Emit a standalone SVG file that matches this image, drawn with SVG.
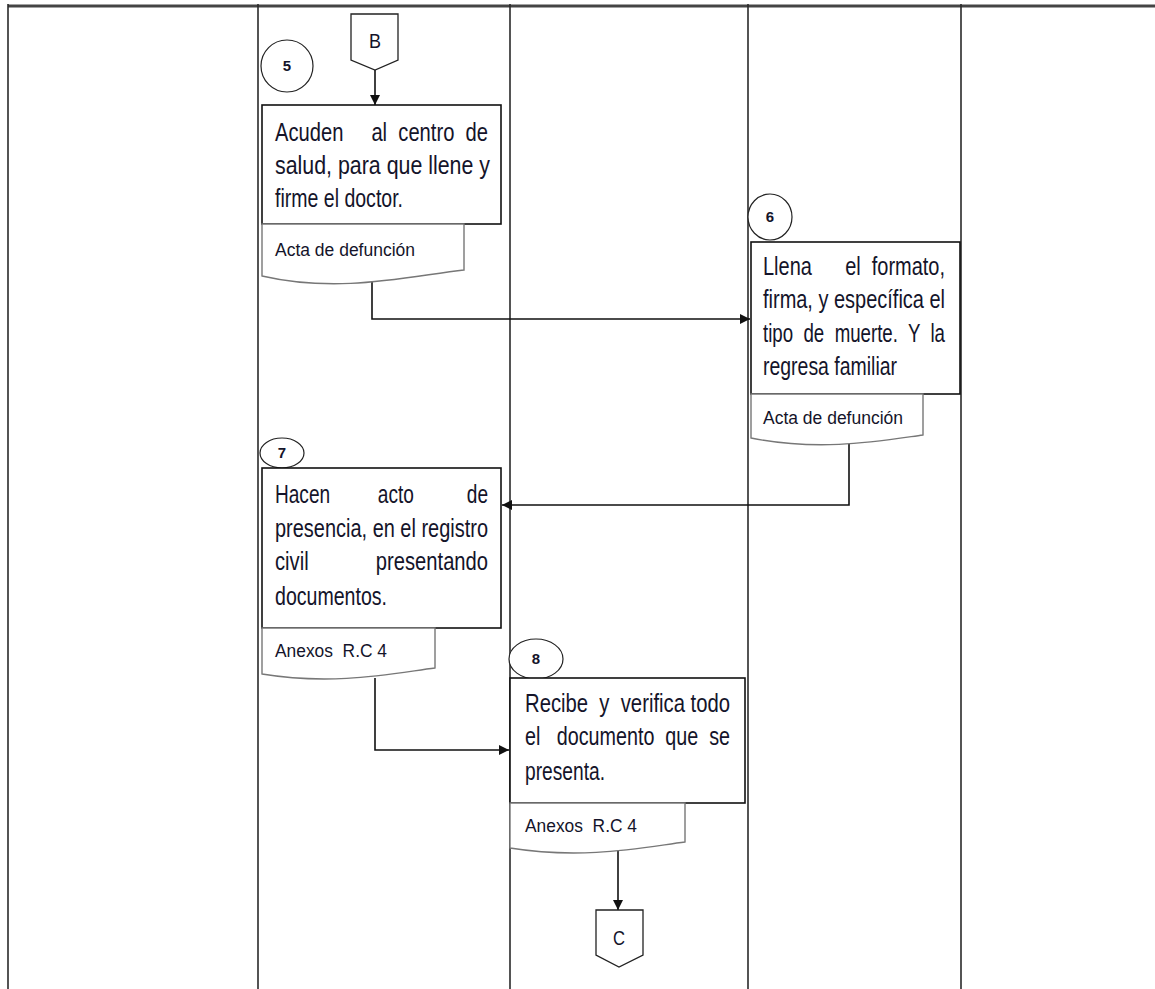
<svg xmlns="http://www.w3.org/2000/svg" width="1155" height="989" viewBox="0 0 1155 989">
<style>
.lane{stroke:#2a2a2a;stroke-width:1.6;fill:none}
.box{fill:#fff;stroke:#111;stroke-width:1.6}
.doc{fill:#fff;stroke:#777;stroke-width:1.4}
.circ{fill:#fff;stroke:#222;stroke-width:1.2}
.conn{fill:#fff;stroke:#222;stroke-width:1.3}
.t{font-family:"Liberation Sans Narrow","Liberation Sans",Arial,sans-serif;font-size:25px;fill:#14142a;white-space:pre}
.d{font-family:"Liberation Sans Narrow","Liberation Sans",Arial,sans-serif;font-size:17.5px;fill:#14142a;white-space:pre}
.n{font-family:"Liberation Sans Narrow","Liberation Sans",Arial,sans-serif;font-size:15px;font-weight:bold;fill:#14142a;text-anchor:middle}
.l{font-family:"Liberation Sans Narrow","Liberation Sans",Arial,sans-serif;font-size:21px;fill:#14142a}
.arr{fill:none;stroke:#111;stroke-width:1.6;marker-end:url(#ah)}
</style>
<defs>
<marker id="ah" viewBox="0 0 10 10" refX="10" refY="5" markerWidth="10" markerHeight="10" markerUnits="userSpaceOnUse" orient="auto">
<path d="M0,0 L10,5 L0,10 Z" fill="#111"/>
</marker>
</defs>
<rect width="1155" height="989" fill="#fff"/>
<g id="grid">
<line x1="8" y1="6" x2="1155" y2="6" stroke="#444" stroke-width="3"/>
<line class="lane" x1="8" y1="4" x2="8" y2="989"/>
<line class="lane" x1="258" y1="4" x2="258" y2="989"/>
<line class="lane" x1="510" y1="4" x2="510" y2="989"/>
<line class="lane" x1="748" y1="4" x2="748" y2="989"/>
<line class="lane" x1="961" y1="4" x2="961" y2="989"/>
</g>
<g id="connectors">
<line class="arr" x1="375" y1="70" x2="375" y2="105"/>
<path class="arr" d="M372,282 V319 H750"/>
<path class="arr" d="M849,444 V505 H502"/>
<path class="arr" d="M375,678 V750 H509"/>
<line class="arr" x1="618" y1="850" x2="618" y2="910"/>
</g>
<g id="conn-B">
<path class="conn" d="M351,14 H398 V60 L375,70 L351,60 Z"/>
<text class="l" x="369" y="48" textLength="12" lengthAdjust="spacingAndGlyphs">B</text>
</g>
<g id="step5">
<ellipse class="circ" cx="287" cy="66" rx="26" ry="26"/>
<text class="n" x="287" y="71">5</text>
</g>
<g id="box1">
<rect class="box" x="262" y="105" width="239" height="119"/>
<text class="t" x="275" y="141" textLength="213" lengthAdjust="spacingAndGlyphs">Acuden     al  centro  de</text>
<text class="t" x="275" y="174" textLength="215" lengthAdjust="spacingAndGlyphs">salud, para que llene y</text>
<text class="t" x="275" y="207" textLength="128" lengthAdjust="spacingAndGlyphs">firme el doctor.</text>
</g>
<g id="doc1">
<path class="doc" d="M262,224 H464 V270 C410,276 340,294 262,276 Z"/>
<text class="d" x="275" y="256" textLength="140" lengthAdjust="spacingAndGlyphs">Acta de defunción</text>
</g>
<g id="step6">
<ellipse class="circ" cx="770" cy="217" rx="22" ry="23"/>
<text class="n" x="770" y="222">6</text>
</g>
<g id="box2">
<rect class="box" x="751" y="242" width="209" height="152"/>
<text class="t" x="763" y="275" textLength="182" lengthAdjust="spacingAndGlyphs">Llena      el  formato,</text>
<text class="t" x="763" y="308" textLength="182" lengthAdjust="spacingAndGlyphs">firma, y específica el</text>
<text class="t" x="763" y="342" textLength="182" lengthAdjust="spacingAndGlyphs">tipo  de  muerte.  Y  la</text>
<text class="t" x="763" y="375" textLength="134" lengthAdjust="spacingAndGlyphs">regresa familiar</text>
</g>
<g id="doc2">
<path class="doc" d="M751,394 H923 V435 C880,441 820,452 751,438 Z"/>
<text class="d" x="763" y="424" textLength="140" lengthAdjust="spacingAndGlyphs">Acta de defunción</text>
</g>
<g id="step7">
<ellipse class="circ" cx="282" cy="453" rx="22" ry="15"/>
<text class="n" x="282" y="458">7</text>
</g>
<g id="box3">
<rect class="box" x="262" y="468" width="239" height="160"/>
<text class="t" x="275" y="503" textLength="213" lengthAdjust="spacingAndGlyphs">Hacen         acto          de</text>
<text class="t" x="275" y="537" textLength="213" lengthAdjust="spacingAndGlyphs">presencia, en el registro</text>
<text class="t" x="275" y="570" textLength="213" lengthAdjust="spacingAndGlyphs">civil            presentando</text>
<text class="t" x="275" y="605" textLength="112" lengthAdjust="spacingAndGlyphs">documentos.</text>
</g>
<g id="doc3">
<path class="doc" d="M262,628 H435 V668 C395,673 335,686 262,674 Z"/>
<text class="d" x="275" y="657" textLength="112" lengthAdjust="spacingAndGlyphs">Anexos  R.C 4</text>
</g>
<g id="step8">
<ellipse class="circ" cx="536" cy="659" rx="27" ry="20"/>
<text class="n" x="536" y="664">8</text>
</g>
<g id="box4">
<rect class="box" x="510" y="678" width="235" height="125"/>
<text class="t" x="525" y="712" textLength="205" lengthAdjust="spacingAndGlyphs">Recibe  y  verifica todo</text>
<text class="t" x="525" y="745" textLength="205" lengthAdjust="spacingAndGlyphs">el   documento  que  se</text>
<text class="t" x="525" y="780" textLength="80" lengthAdjust="spacingAndGlyphs">presenta.</text>
</g>
<g id="doc4">
<path class="doc" d="M510,803 H685 V842 C645,847 585,860 510,848 Z"/>
<text class="d" x="525" y="832" textLength="112" lengthAdjust="spacingAndGlyphs">Anexos  R.C 4</text>
</g>
<g id="conn-C">
<path class="conn" d="M596,910 H643 V955 L619,967 L596,955 Z"/>
<text class="l" x="613" y="945" textLength="12" lengthAdjust="spacingAndGlyphs">C</text>
</g>
</svg>
